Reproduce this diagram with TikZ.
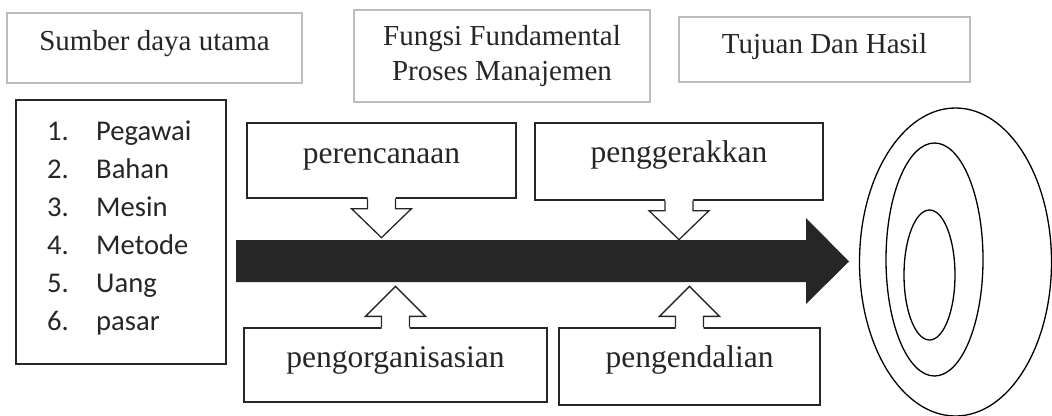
\documentclass[tikz,border=0pt]{standalone}
\usepackage{fontspec}
\setmainfont{Liberation Serif}
\newfontfamily\listfont{Carlito}
\definecolor{txt}{HTML}{262626}
\definecolor{hgray}{HTML}{BDBDBD}
\tikzset{
  hdr/.style={draw=hgray, line width=1.6pt, inner sep=0pt, text=txt,
    font=\fontsize{29}{35}\selectfont},
  fbox/.style={draw=txt, line width=1.3pt, inner sep=0pt, fill=white, text=txt,
    font=\fontsize{31.5}{38}\selectfont},
  lst/.style={font=\listfont\fontsize{28.6}{38}\selectfont, text=txt, anchor=base west, inner sep=0pt},
  callout/.style={draw=txt, line width=1.3pt, line join=miter},
  ring/.style={draw=black, line width=1.3pt},
}
\newcommand\calldown[1]{%
  \fill[white] (#1.south) ++(-14,-2) -- ++(0,12) -- ++(-16,0) -- ++(30,29) -- ++(30,-29) -- ++(-16,0) -- ++(0,-12) -- cycle;
  \draw[callout] (#1.south) ++(-14,0) -- ++(0,10) -- ++(-16,0) -- ++(30,29) -- ++(30,-29) -- ++(-16,0) -- ++(0,-10);}
\newcommand\callup[1]{%
  \fill[white] (#1.north) ++(-14,2) -- ++(0,-13) -- ++(-16,0) -- ++(30,-30) -- ++(30,30) -- ++(-16,0) -- ++(0,13) -- cycle;
  \draw[callout] (#1.north) ++(-14,0) -- ++(0,-11) -- ++(-16,0) -- ++(30,-30) -- ++(30,30) -- ++(-16,0) -- ++(0,11);}
\begin{document}
\begin{tikzpicture}[x=1pt,y=-1pt]
\useasboundingbox (0,0) rectangle (1052,415);

% header boxes
\node[hdr, minimum width=295pt, text height=37pt, text depth=33pt] (sdu) at (154.5,48) {Sumber daya utama};
\node[hdr, minimum width=296pt, minimum height=92pt, align=center] (ffp) at (502,56) {Fungsi Fundamental\\Proses Manajemen};
\node[hdr, minimum width=291pt, text height=36pt, text depth=29pt] (tdh) at (824.5,49.5) {Tujuan Dan Hasil};

% resource list
\node[draw=txt, line width=1.3pt, minimum width=210pt, minimum height=264pt, inner sep=0pt] (res) at (121,232) {};
\node[lst] (n1) at (47,140) {1.}; \node[lst] (w1) at (96,140) {Pegawai};
\node[lst] (n2) at (47,178) {2.}; \node[lst] (w2) at (96,178) {Bahan};
\node[lst] (n3) at (47,216) {3.}; \node[lst] (w3) at (96,216) {Mesin};
\node[lst] (n4) at (47,254) {4.}; \node[lst] (w4) at (96,254) {Metode};
\node[lst] (n5) at (47,292) {5.}; \node[lst] (w5) at (96,292) {Uang};
\node[lst] (n6) at (47,330) {6.}; \node[lst] (w6) at (96,330) {pasar};

% goal rings
\draw[ring] (955.5,262) ellipse [x radius=96pt, y radius=154pt];
\draw[ring] (934.5,259.5) ellipse [x radius=48.5pt, y radius=116.5pt];
\draw[ring] (929.5,275) ellipse [x radius=25.5pt, y radius=65pt];

% main arrow
\fill[txt] (236,240) -- (806,240) -- (806,218) -- (849,261.5) -- (806,304) -- (806,282) -- (236,282) -- cycle;

% function boxes
\node[fbox, minimum width=269pt, text height=40pt, text depth=35pt] (per) at (381.5,160.5) {perencanaan};
\node[fbox, minimum width=288pt, text height=39pt, text depth=38pt] (peg) at (679,161.5) {penggerakkan};
\node[fbox, minimum width=303pt, text height=39pt, text depth=35pt] (org) at (395.5,365) {pengorganisasian};
\node[fbox, minimum width=261pt, text height=39pt, text depth=38pt] (ken) at (689.5,366.5) {pengendalian};

\calldown{per}
\calldown{peg}
\callup{org}
\callup{ken}
\end{tikzpicture}
\end{document}
